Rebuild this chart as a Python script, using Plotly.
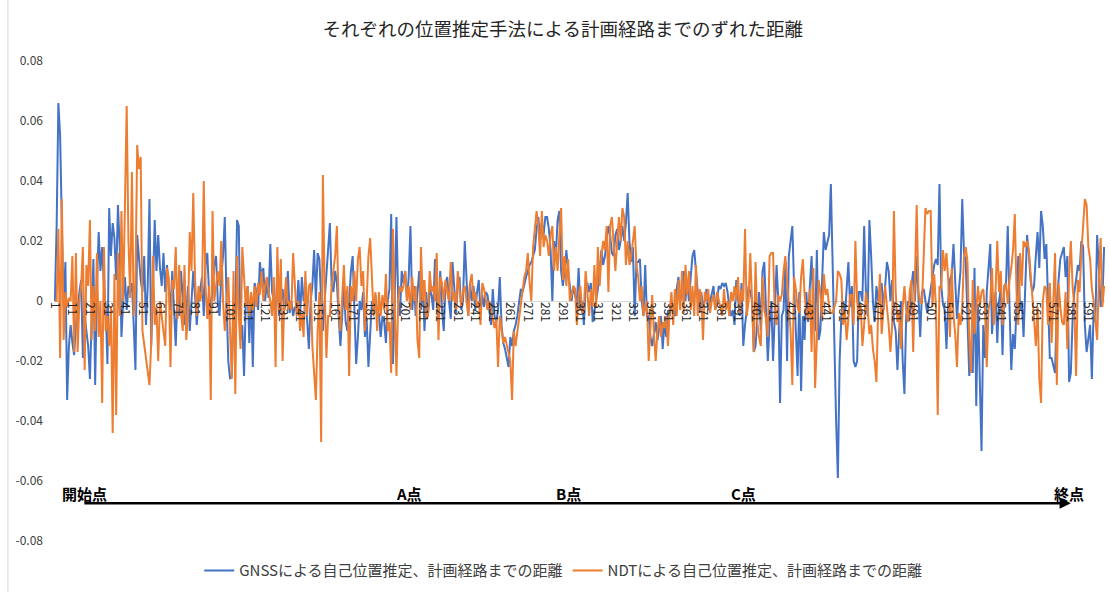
import plotly.graph_objects as go

# Deviation from the planned route for each localisation method, in millimetres
GNSS_MM = [
    0, 25, 66, 55, 25, -2, 13, -33, -15, -8,
    -14, -18, -8, -2, 3, 7, -19, -5, -10, -15,
    -26, -5, 14, -28, 5, 23, 10, 18, 5, -2,
    -21, 31, 15, 26, 21, 7, 32, 18, -12, 0,
    8, -3, 5, 3, 6, -8, -23, 22, 14, 7,
    3, 15, -8, 5, 34, -15, 5, 27, 10, 22,
    11, 5, 16, 3, 12, 5, -3, 10, -5, -15,
    3, -5, 10, 2, -8, -4, 5, -10, 0, 10,
    2, -8, 0, 5, 8, -5, 12, 16, 3, -4,
    5, 12, 15, 0, -5, 8, 15, 28, 0, -20,
    -26, -25, 0, -5, 27, 25, -13, -8, -25, 0,
    5, -14, 3, -22, 6, 3, -3, 13, 8, 11,
    0, 6, 1, 19, 3, 0, -5, 10, -5, 0,
    4, -3, 0, 10, -4, 0, -5, -2, -3, 7,
    -5, 8, 0, 3, -7, -16, 0, 5, 17, 0,
    16, 14, 0, -10, 0, 10, 20, 26, 5, 3,
    10, 6, -5, -15, -5, 5, -7, -10, 0, 10,
    15, 0, -21, -12, 0, -3, 3, -12, -6, -22,
    -10, 0, -3, 2, -5, -4, -12, -5, -7, -14,
    0, 4, 29, -21, 0, 28, 0, -5, 10, 6,
    10, 0, 8, 25, -3, 5, -5, 4, 10, -3,
    7, -10, 3, -5, 4, 2, -3, 14, 0, -5,
    10, -3, -10, 6, 8, 0, -6, 13, 3, -4,
    5, 8, -3, 0, 20, 5, -5, 6, 0, 5,
    -3, 3, 7, -4, 2, -2, 3, 2, -4, -8,
    4, -5, -7, -3, 8, -8, -14, -16, -19, -22,
    -12, -15, -10, -8, -5, 0, 4, 3, 6, 8,
    10, 12, 13, 15, 17, 24, 28, 20, 26, 22,
    28, 28, 24, 17, 0, 20, 15, 27, 30, 10,
    5, 10, 17, 10, 5, 0, 5, 2, -1, 11,
    -3, 0, -8, 5, 6, 3, 6, -7, -3, 0,
    4, 10, 17, 12, 15, 20, 25, 22, 16, 15,
    22, 24, 17, 20, 25, 20, 26, 36, 20, 13,
    18, -5, 13, 13, 14, 0, -5, 12, -5, -5,
    -12, -15, -10, -7, -13, -8, -5, -16, -7, -12,
    -3, -5, 0, -4, -5, 4, 8, 0, 3, 10,
    0, 7, 0, 8, 15, 17, 10, 3, -4, 3,
    -2, 0, 4, -3, 0, 2, 5, -3, 0, 5,
    4, 6, 5, 6, 3, -2, -5, -3, -8, 7,
    0, -5, 6, -15, -8, -3, 5, 3, 0, -17,
    -15, -5, 3, -10, 10, 13, -5, -20, -8, 0,
    -20, -5, 12, 0, -34, -5, -3, 13, -20, 15,
    20, 25, 5, -8, -25, 3, -30, -5, -13, 3,
    -7, 5, 15, -5, -10, 17, -13, -10, 5, 23,
    17, 20, 22, 39, 10, -20, -40, -59, -20, -5,
    0, -5, 3, 13, -2, 5, -20, -22, -20, 3,
    3, 0, 25, 3, -5, 27, 15, 0, -7, 5,
    0, 3, 6, -3, 5, 13, 10, 0, 7, -7,
    -10, -23, -10, 0, -20, -31, -5, 0, -5, 5,
    10, 0, 15, 0, -12, 3, 4, 0, -4, 0,
    4, 9, 12, 14, 12, 39, 5, -1, -3, -16,
    0, 7, 9, 19, 7, -6, 3, 10, 34, 16,
    13, -8, -25, -17, -24, 11, -35, -1, -28, -50,
    -8, -19, 3, 12, 19, -11, -2, 3, -14, 0,
    4, -18, 5, 6, 25, -2, -23, -11, -16, -2,
    15, -3, 0, -12, 6, 22, 16, 7, 3, 5,
    15, 23, 11, 30, 25, 14, 19, -3, -19, -19,
    -22, -24, 0, 6, 14, 16, 18, 8, 15, -27,
    -24, -6, 3, 7, 12, 10, 20, 18, -8, -17,
    -13, -8, -26, -3, -7, 22, 11, -2, 0, 18,
]

NDT_MM = [
    0, 0, 24, -19, 34, -13, 3, -2, 1, 0,
    15, -17, 16, -17, 0, 5, 18, -23, 12, 5,
    27, -13, 5, -10, 16, -12, 0, -34, 18, -10,
    -5, -15, -2, -44, 9, -38, 16, -5, 30, 0,
    32, 65, 20, 1, 43, -5, 5, 52, 44, 48,
    -10, -15, -20, -25, -28, -14, 15, -8, -2, -20,
    0, -5, -10, -15, 11, 8, -22, 7, 4, 18,
    -6, 12, -4, -10, 12, -13, -5, 23, 10, 36,
    8, -5, 5, 0, 3, 40, 5, -6, 5, -33,
    30, 0, 5, 10, 5, 20, 0, -10, 0, 8,
    -10, -26, 10, -31, 15, -5, -16, 18, 8, -2,
    5, -5, 3, -3, 5, -2, 6, 2, 10, 0,
    5, 8, 3, 0, -5, 8, -22, 18, -3, 14,
    -20, 0, 8, -3, 0, -3, 16, 4, -5, 0,
    -10, -4, -12, 10, -5, 5, 6, -15, -25, -33,
    -10, 3, -47, 42, 5, -19, -5, -5, 5, 10,
    15, 25, -3, -10, 0, 12, -3, 5, -25, 5,
    0, 10, 0, 14, 18, 5, 10, -10, 0, 15,
    21, 10, -5, 3, -10, 3, -5, 2, -3, 9,
    -10, -7, -24, 24, 0, -25, 0, 5, 3, 5,
    10, 0, 5, -3, 8, 0, 5, -13, -19, 18,
    0, 7, -6, -5, 10, 3, 5, 0, 16, -13,
    8, 6, 0, 7, 3, 0, 13, 0, 3, -3,
    10, 5, -2, 3, 5, 0, -5, 6, 9, 0,
    3, -2, 0, -8, 6, 4, 0, -3, 0, -3,
    -5, -9, -6, -22, -5, -10, -14, -12, -15, -18,
    -20, -33, -10, -15, -10, -5, -2, 3, 8, 10,
    16, 6, 0, 18, 25, 30, 25, 15, 30, 18,
    22, 20, 15, 22, 25, 10, 18, 10, 22, 31,
    7, 15, 5, 14, 0, 2, 5, 4, -8, 2,
    5, -4, -3, 10, 3, -5, 4, -2, 12, -2,
    18, 5, 15, 20, 17, 25, 3, 25, 28, 18,
    10, 20, 28, 20, 31, 28, 12, 20, 12, 15,
    20, 25, 12, 8, 0, 5, -5, -2, 0, -20,
    -10, 2, -11, -20, -10, -5, -12, -7, -9, -5,
    -15, -3, 3, -8, 4, -5, 7, -3, 10, -4,
    12, 2, 10, -3, 5, -5, 12, -5, 4, 2,
    -13, 3, 0, 4, -4, 0, 2, -3, 3, 0,
    -2, -5, 4, -3, 0, -5, 3, 0, 5, 0,
    8, -4, 4, 0, 24, -5, 0, 16, 0, -17,
    13, -7, -12, -15, 8, -3, -6, -12, 15, 16,
    16, -4, -8, 2, 0, 2, 10, 15, 7, -3,
    -10, -28, 8, 4, -2, -4, 8, 14, 2, -3,
    -6, 4, -17, 11, -29, -13, 7, 3, -6, 9,
    2, 4, -2, -4, -4, -2, 0, 10, 9, 7,
    -8, -3, -13, -6, 2, 2, -8, 20, 0, -6,
    -1, -15, -8, 3, -2, -11, -8, -16, -20, -27,
    -3, 9, -11, -3, 5, -2, -8, -17, -8, 30,
    3, -7, -3, -16, -2, 5, -3, -7, 3, 7,
    -17, 8, 32, 3, 0, -1, 19, 31, 29, 30,
    30, -2, 9, -2, -38, 5, 4, 17, 10, 16,
    7, -12, 11, -5, -11, -22, -4, -8, -2, 15,
    18, 13, -12, -24, 7, -11, -3, 5, -2, 3,
    4, -3, -22, -3, 0, 11, -8, 3, 20, 3,
    10, -8, 4, 6, -1, 7, 11, 17, 29, 3,
    -8, 16, 5, 20, 18, 20, 17, 10, 3, -6,
    -15, -2, -26, -34, 0, 5, 4, -8, 6, -14,
    0, 16, -28, 6, -2, -7, -8, 3, -16, 9,
    20, 5, -2, -25, 7, 3, 16, 27, 34, 32,
    18, 14, 4, 0, -6, -13, 7, 21, -2, 5,
]

# Sample numbers along the route (1-based) and the labelled ones
SAMPLES = list(range(1, len(GNSS_MM) + 1))
X_TICKS = list(range(1, 600, 10))
X_TICK_TEXT = [str(v) for v in X_TICKS]

Y_TICKS = [0.08, 0.06, 0.04, 0.02, 0, -0.02, -0.04, -0.06, -0.08]
Y_TICK_TEXT = ["0.08", "0.06", "0.04", "0.02", "0", "-0.02", "-0.04", "-0.06", "-0.08"]

# Waypoints along the route, placed at their sample number
WAYPOINT_NAMES = ["開始点", "A点", "B点", "C点", "終点"]
WAYPOINT_SAMPLES = [18, 203, 294, 394, 580]

SERIES_NAMES = [
    "GNSSによる自己位置推定、計画経路までの距離",
    "NDTによる自己位置推定、計画経路までの距離",
]
SERIES_COLORS = ["#4472C4", "#ED7D31"]

TITLE = "それぞれの位置推定手法による計画経路までのずれた距離"
FONT = "Noto Sans CJK JP"

gnss_m = [v / 1000 for v in GNSS_MM]
ndt_m = [v / 1000 for v in NDT_MM]

fig = go.Figure()
for name, color, values in zip(SERIES_NAMES, SERIES_COLORS, [gnss_m, ndt_m]):
    fig.add_trace(go.Scatter(
        x=SAMPLES, y=values, mode="lines", name=name,
        line=dict(color=color, width=2),
    ))

ARROW_Y = -0.0674
LABEL_Y = -0.0640

annotations = []
for label, s in zip(WAYPOINT_NAMES, WAYPOINT_SAMPLES):
    annotations.append(dict(
        x=s, y=LABEL_Y, xref="x", yref="y", text=f"<b>{label}</b>",
        showarrow=False, xanchor="center", yanchor="middle",
        font=dict(family=FONT, size=15, color="#000000"),
    ))
# Route arrow from start to goal
annotations.append(dict(
    x=581, y=ARROW_Y, ax=17, ay=ARROW_Y, xref="x", yref="y",
    axref="x", ayref="y", text="", showarrow=True,
    arrowhead=2, arrowsize=0.9, arrowwidth=2.5, arrowcolor="#000000",
))

fig.update_layout(
    width=1110, height=592,
    margin=dict(l=54, r=5, t=61, b=47),
    paper_bgcolor="white", plot_bgcolor="white",
    font=dict(family=FONT, color="#595959"),
    title=dict(
        text=TITLE, x=0.507, xref="container", xanchor="center",
        y=1 - 30 / 592, yref="container", yanchor="middle",
        font=dict(family=FONT, size=18.5, color="#262626"),
    ),
    showlegend=True,
    legend=dict(
        orientation="h", x=0.4845, xanchor="center", y=-0.062, yanchor="middle",
        font=dict(family=FONT, size=15, color="#404040"),
        itemwidth=30, bgcolor="rgba(0,0,0,0)",
    ),
    annotations=annotations,
    shapes=[dict(
        type="line", xref="paper", yref="paper",
        x0=-0.0438, x1=-0.0438, y0=-0.2, y1=1.2,
        line=dict(color="#d9d9d9", width=1),
    )],
)

fig.update_xaxes(
    range=[0.5, 600.5], tickmode="array", tickvals=X_TICKS, ticktext=X_TICK_TEXT,
    tickangle=90, tickfont=dict(family=FONT, size=12, color="#262626"),
    showgrid=False, zeroline=False, showline=False, ticks="",
    anchor="free", position=0.5, layer="above traces",
)
fig.update_yaxes(
    range=[-0.08, 0.08], tickmode="array", tickvals=Y_TICKS, ticktext=Y_TICK_TEXT,
    tickfont=dict(family=FONT, size=12, color="#404040"),
    showgrid=False, zeroline=True, zerolinecolor="#d9d9d9", zerolinewidth=1,
    showline=False, ticks="", ticklabelstandoff=10,
)

fig.write_html("out.html")
